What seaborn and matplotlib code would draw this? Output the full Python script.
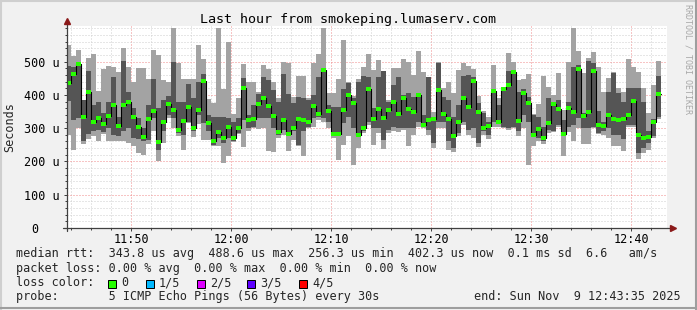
import numpy as np
import pandas as pd
import matplotlib
matplotlib.use("Agg")
import matplotlib.pyplot as plt
import matplotlib.dates as mdates
import matplotlib.ticker as mticker
from matplotlib.patches import Rectangle
from matplotlib.lines import Line2D
import seaborn as sns

# ---------------- data ----------------
first_sample = "2025-11-09 11:44:00"
view_start = "2025-11-09 11:43:35"
view_end = "2025-11-09 12:43:35"

# sorted ping values (µs) per 30 s step: max, 4th, median, 2nd, min
rtt_max = [550, 517, 535, 386, 510, 524, 413, 478, 486, 484, 470, 542, 484, 440, 480, 480, 448, 536, 521, 446,
           440, 600, 495, 447, 447, 447, 550, 507, 387, 377, 600, 417, 560, 342, 390, 492, 440, 440, 410, 490,
           477, 440, 390, 500, 497, 395, 457, 457, 390, 497, 522, 600, 407, 407, 447, 565, 440, 397, 447, 485,
           522, 475, 505, 473, 385, 482, 482, 507, 500, 460, 532, 470, 453, 350, 500, 420, 440, 405, 475, 495,
           487, 477, 397, 353, 335, 490, 390, 425, 525, 500, 445, 447, 463, 343, 373, 457, 425, 400, 465, 355,
           500, 600, 532, 467, 510, 528, 485, 410, 452, 470, 420, 410, 507, 485, 470, 420, 345, 430, 502]
rtt_p4 = [488, 485, 495, 385, 473, 370, 380, 345, 380, 453, 335, 503, 410, 360, 330, 300, 370, 448, 360, 386,
          397, 500, 380, 380, 433, 390, 440, 463, 340, 335, 335, 335, 330, 320, 330, 450, 340, 370, 403, 455,
          445, 415, 380, 463, 403, 375, 395, 390, 385, 400, 453, 477, 370, 365, 365, 417, 435, 390, 440, 457,
          455, 360, 455, 473, 380, 430, 455, 400, 405, 395, 400, 340, 453, 335, 495, 395, 385, 335, 370, 457,
          460, 455, 375, 345, 320, 417, 370, 422, 473, 475, 410, 417, 395, 340, 335, 305, 390, 380, 385, 325,
          380, 485, 490, 345, 502, 497, 353, 320, 410, 465, 405, 380, 420, 420, 420, 380, 290, 327, 457]
rtt_median = [435, 463, 492, 333, 410, 318, 331, 314, 336, 369, 306, 369, 380, 335, 302, 272, 327, 353, 257, 319,
              372, 354, 293, 321, 363, 301, 354, 443, 316, 261, 288, 271, 302, 270, 300, 422, 326, 329, 372, 390,
              367, 336, 287, 324, 283, 299, 327, 325, 318, 366, 343, 474, 352, 283, 281, 356, 401, 376, 279, 301,
              419, 329, 358, 332, 356, 379, 343, 391, 358, 349, 399, 309, 326, 329, 414, 342, 328, 275, 318, 391,
              365, 441, 350, 300, 306, 413, 318, 419, 430, 469, 321, 407, 377, 279, 296, 271, 317, 374, 358, 283,
              360, 348, 477, 336, 348, 473, 310, 307, 339, 328, 326, 329, 340, 381, 279, 270, 272, 318, 403]
rtt_p2 = [383, 325, 330, 260, 282, 290, 295, 288, 300, 278, 275, 290, 300, 270, 268, 262, 265, 330, 235, 290,
          340, 330, 285, 280, 320, 290, 340, 315, 290, 250, 270, 255, 270, 262, 285, 325, 300, 305, 330, 330,
          330, 300, 280, 295, 275, 290, 250, 290, 305, 330, 335, 330, 320, 280, 275, 315, 335, 300, 275, 290,
          320, 300, 300, 265, 295, 305, 300, 300, 300, 300, 320, 305, 295, 255, 320, 320, 260, 240, 285, 320,
          295, 300, 255, 290, 280, 320, 312, 305, 300, 305, 290, 340, 320, 275, 270, 260, 295, 290, 310, 275,
          305, 310, 330, 300, 300, 303, 285, 292, 300, 280, 280, 267, 310, 310, 225, 240, 255, 275, 335]
rtt_min = [280, 233, 300, 253, 266, 275, 260, 283, 262, 260, 260, 262, 256, 246, 226, 220, 252, 290, 200, 256,
           330, 300, 275, 233, 315, 273, 312, 265, 263, 247, 245, 195, 215, 258, 283, 242, 290, 300, 297, 300,
           230, 228, 270, 280, 230, 265, 245, 215, 300, 305, 325, 320, 300, 270, 205, 250, 275, 190, 240, 285,
           310, 250, 285, 237, 285, 290, 287, 295, 247, 280, 305, 300, 280, 240, 300, 300, 235, 227, 275, 310,
           280, 270, 243, 280, 267, 305, 305, 300, 295, 300, 275, 300, 190, 247, 260, 253, 285, 288, 305, 217,
           287, 260, 300, 252, 253, 300, 282, 280, 270, 245, 247, 232, 305, 305, 207, 225, 235, 270, 327]

y_ticks = [0, 100, 200, 300, 400, 500]
y_tick_labels = ["0   ", "100 u", "200 u", "300 u", "400 u", "500 u"]

title = "Last hour from smokeping.lumaserv.com"
legend_lines = [
    "median rtt:  343.8 us avg  488.6 us max  256.3 us min  402.3 us now  0.1 ms sd  6.6   am/s",
    "packet loss: 0.00 % avg  0.00 % max  0.00 % min  0.00 % now",
    "loss color:",
    "probe:       5 ICMP Echo Pings (56 Bytes) every 30s",
]
loss_labels = ["0", "1/5", "2/5", "3/5", "4/5"]
loss_colors = ["#26ff00", "#00b8ff", "#dd00ff", "#5e00ff", "#ff0000"]
end_text = "end: Sun Nov  9 12:43:35 2025"
watermark = "RRDTOOL / TOBI OETIKER"

# ---------------- style ----------------
W, H, DPI = 697, 310, 100
sns.set_theme(style="white")
plt.rcParams["font.family"] = ["DejaVu Sans Mono", "DejaVu Sans"]
BG = "#f1f1f1"
LIGHT = "#a3a3a3"
DARK = "#555555"
AXC = "#404040"
FS = 8.5

fig = plt.figure(figsize=(W / DPI, H / DPI), dpi=DPI, facecolor=BG)
ax = fig.add_axes([67 / W, (H - 228) / H, 600 / W, 202 / H])
ax.set_facecolor("white")

times = pd.date_range(first_sample, periods=len(rtt_median), freq="30s")
t_end = mdates.date2num(times.to_pydatetime())
step = 30 / 86400.0
t_start = t_end - step
edges = np.append(t_start, t_end[-1])


def ext(a):
    a = np.asarray(a, dtype=float)
    return np.append(a, a[-1])


# smoke
ax.fill_between(edges, ext(rtt_min), ext(rtt_max), step="post", color=LIGHT, lw=0, antialiased=False, zorder=2)
ax.fill_between(edges, ext(rtt_p2), ext(rtt_p4), step="post", color=DARK, lw=0, antialiased=False, zorder=3)

# median: black step line + green loss-coloured segments
med_df = pd.DataFrame({"t": edges, "median": ext(rtt_median)})
sns.lineplot(data=med_df, x="t", y="median", drawstyle="steps-post", color="black", lw=0.8,
             ax=ax, legend=False, zorder=4, estimator=None)
ax.hlines(rtt_median, t_start, t_end, colors=loss_colors[0], lw=2.6, zorder=5, antialiased=False)

# axes ranges / grid
ax.set_xlim(mdates.date2num(pd.Timestamp(view_start).to_pydatetime()),
            mdates.date2num(pd.Timestamp(view_end).to_pydatetime()))
ax.set_ylim(0, 607)
ax.set_xlabel("")
ax.set_ylabel("")

ax.xaxis.set_major_locator(mdates.MinuteLocator(byminute=range(0, 60, 10)))
ax.xaxis.set_minor_locator(mdates.MinuteLocator(byminute=range(0, 60, 2)))
ax.xaxis.set_major_formatter(mdates.DateFormatter("%H:%M"))
ax.yaxis.set_major_locator(mticker.FixedLocator(y_ticks))
ax.yaxis.set_major_formatter(mticker.FixedFormatter(y_tick_labels))
ax.yaxis.set_minor_locator(mticker.MultipleLocator(20))

ax.set_axisbelow(True)
ax.grid(which="minor", color="#cfcfcf", ls=(0, (1, 2)), lw=0.72, zorder=0)
ax.grid(which="major", color="#f08a8a", ls=(0, (1, 2)), lw=0.72, zorder=1)

for s in ax.spines.values():
    s.set_visible(False)

ax.tick_params(axis="both", which="major", length=2.2, width=0.72, color=AXC, labelsize=FS,
               labelcolor="black", direction="out")
ax.tick_params(axis="both", which="minor", length=1.4, width=0.72, color=AXC, direction="out")
ax.tick_params(axis="x", which="major", pad=1.1)
ax.tick_params(axis="y", which="major", pad=2.8)
ax.tick_params(bottom=True, left=True, which="both")

# axis lines with arrows
ax.add_line(Line2D([0, 0], [-3 / 202, 1 + 3 / 202], transform=ax.transAxes, color=AXC, lw=0.9,
                   clip_on=False, zorder=6))
ax.add_line(Line2D([-4 / 600, 1 + 4 / 600], [0, 0], transform=ax.transAxes, color=AXC, lw=0.9,
                   clip_on=False, zorder=6))
ax.plot([0], [1 + 5 / 202], marker="^", ms=4, color="#8b1a1a", transform=ax.transAxes, clip_on=False, zorder=7)
ax.plot([1 + 6 / 600], [0], marker=">", ms=4, color="#8b1a1a", transform=ax.transAxes, clip_on=False, zorder=7)

# texts
fig.text(348 / W, 1 - 19 / H, title, ha="center", va="center", fontsize=9.6, color="black")
fig.text(10 / W, 1 - 127 / H, "Seconds", rotation=90, ha="center", va="center", fontsize=FS)
fig.text(688 / W, 1 - 4 / H, watermark, rotation=270, ha="center", va="top", fontsize=6, color="#a8a8a8")

line_y = [254, 268.3, 282.7, 296.7]
for txt, yy in zip(legend_lines, line_y):
    fig.text(16 / W, 1 - yy / H, txt, ha="left", va="center", fontsize=FS)
fig.text(681 / W, 1 - line_y[3] / H, end_text, ha="right", va="center", fontsize=FS)

box_x = [108, 146, 197, 247, 299]
for bx, lab, col in zip(box_x, loss_labels, loss_colors):
    fig.patches.append(Rectangle((bx / W, 1 - 287.5 / H), 8 / W, 8 / H, transform=fig.transFigure,
                                 facecolor=col, edgecolor="black", lw=0.72, figure=fig))
    fig.text((bx + 13) / W, 1 - line_y[2] / H, lab, ha="left", va="center", fontsize=FS)

# 3D frame
fig.add_artist(Line2D([0, 1], [1 - 1 / H, 1 - 1 / H], transform=fig.transFigure, color="#cfcfcf", lw=1.5))
fig.add_artist(Line2D([1 / W, 1 / W], [0, 1], transform=fig.transFigure, color="#cfcfcf", lw=1.5))
fig.add_artist(Line2D([0, 1], [2.5 / H, 2.5 / H], transform=fig.transFigure, color="#9e9e9e", lw=1.5))
fig.add_artist(Line2D([1 - 1 / W, 1 - 1 / W], [0, 1], transform=fig.transFigure, color="#9e9e9e", lw=1.5))

fig.savefig("out.png", dpi=DPI, facecolor=BG)
